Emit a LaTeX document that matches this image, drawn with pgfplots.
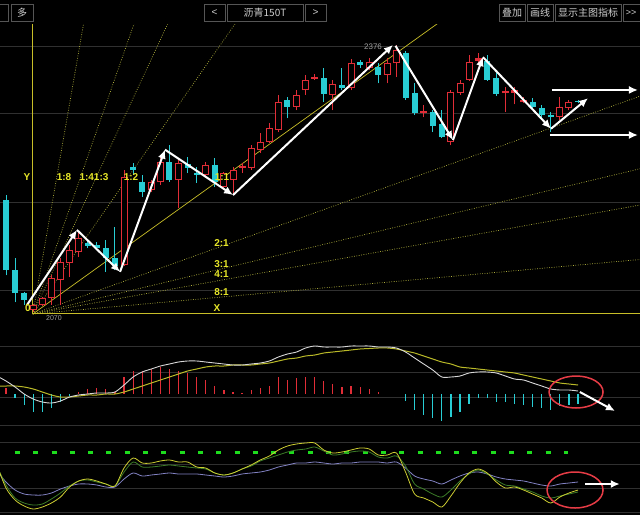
\documentclass[border=0pt]{standalone}
\usepackage{fontspec}
\setmainfont{Liberation Sans}
\newfontfamily\cjk{Noto Sans CJK SC}
\usepackage{pgfplots}
\pgfplotsset{compat=1.18}
\usepackage{pgfplotstable}
\usetikzlibrary{arrows.meta}

\definecolor{cy}{RGB}{40,205,212}
\definecolor{rd}{RGB}{225,45,55}
\definecolor{fany}{RGB}{175,175,60}
\definecolor{lbly}{RGB}{230,230,40}
\definecolor{axy}{RGB}{200,190,40}
\definecolor{gridg}{RGB}{48,48,48}
\definecolor{btng}{RGB}{85,85,85}
\definecolor{txtg}{RGB}{205,205,205}
\definecolor{labg}{RGB}{160,160,160}
\definecolor{difw}{RGB}{215,215,215}
\definecolor{deay}{RGB}{185,185,40}
\definecolor{kj}{RGB}{205,205,50}
\definecolor{kk}{RGB}{60,125,40}
\definecolor{kd}{RGB}{130,130,195}
\definecolor{gdash}{RGB}{30,220,30}
\definecolor{ell}{RGB}{230,60,70}

% candles: index, open, high, low, close
\pgfplotstableread{
i o h l c
0 2198 2204 2112 2118
1 2118 2132 2081 2092
2 2092 2093 2078 2084
9 2149 2153 2143 2146
10 2147 2150 2141 2143
11 2143 2153 2116 2132
12 2132 2167 2118 2123
14 2236 2241 2227 2233
15 2219 2227 2202 2208
18 2242 2261 2219 2221
20 2240 2248 2229 2235
21 2229 2236 2218 2227
23 2238 2246 2213 2219
31 2313 2316 2292 2305
35 2338 2350 2311 2320
37 2330 2350 2324 2327
39 2357 2359 2350 2353
41 2351 2355 2332 2342
44 2367 2369 2313 2315
45 2321 2332 2296 2298
47 2299 2301 2276 2283
48 2285 2301 2269 2270
53 2358 2365 2335 2336
54 2338 2344 2318 2320
58 2311 2315 2301 2305
59 2304 2307 2292 2296
60 2296 2299 2276 2293
63 2312 2313 2310 2311
}\candown

\pgfplotstableread{
i o h l c
3 2072 2079 2070 2078
4 2078 2087 2077 2086
5 2086 2112 2078 2109
6 2107 2132 2078 2127
7 2126 2147 2110 2141
8 2139 2162 2133 2155
13 2124 2233 2123 2225
16 2210 2221 2208 2219
17 2219 2250 2216 2242
19 2221 2246 2189 2241
22 2227 2242 2224 2238
24 2213 2230 2210 2229
25 2221 2236 2204 2233
27 2235 2261 2233 2258
28 2256 2275 2252 2265
29 2265 2287 2264 2281
30 2279 2319 2276 2311
32 2305 2324 2301 2319
33 2324 2342 2319 2336
36 2319 2336 2301 2331
38 2327 2360 2324 2355
40 2350 2361 2347 2357
42 2342 2361 2332 2355
43 2355 2376 2339 2370
49 2265 2324 2261 2322
50 2321 2336 2319 2332
51 2336 2365 2335 2357
61 2293 2316 2290 2305
62 2304 2313 2301 2311
}\canup

\pgfplotstableread{
i o h l c
26 2235 2241 2229 2237
34 2337 2343 2336 2339
46 2298.5 2307 2293 2300
52 2358 2367 2355 2361
55 2321.5 2328 2299 2323
56 2321 2328 2308 2324
57 2311 2316 2310 2313
}\candoji

\pgfplotstableread{
i v
0 6
8 2
9 5
10 6
11 5
12 2
13 17
14 23
15 23
16 25
17 27
18 25
19 23
20 21
21 17
22 14
23 8
24 4
25 2
26 1
27 4
28 6
29 8
30 17
31 14
32 16
33 17
34 17
35 13
36 10
37 7
38 8
39 7
40 5
41 2
}\macdpos

\pgfplotstableread{
i v
1 -4
2 -11
3 -18
4 -18
5 -14
6 -8
7 -2
44 -7
45 -16
46 -21
47 -24
48 -27
49 -23
50 -18
51 -10
52 -4
53 -4
54 -8
55 -8
56 -10
57 -11
58 -13
59 -14
60 -16
61 -12
62 -11
63 -10
}\macdneg

\pgfplotstableread{
i dif dea
-1 18 8
0 13 8
1 7 8
2 0 7
3 -5 5
4 -8 2
5 -9 -1
6 -7 -3
7 -3 -3
8 -1 -2
9 0 -1
10 1 -1
11 1 0
12 2 0
13 9 2
14 17 5
15 22 8
16 25 11
17 28 14
18 30 17
19 32 20
20 33 23
21 33 25
22 32 27
23 31 28
24 30 28
25 29 29
26 29 29
27 30 29
28 31 30
29 33 31
30 37 33
31 40 35
32 42 36
33 46 38
34 48 39
35 47 41
36 47 42
37 47 43
38 48 44
39 48 45
40 48 45.5
41 47 46
42 47 46
43 46 45
44 42 43
45 36 41
46 30 38
47 24 35
48 17 32
49 17 30
50 18 27
51 21 26
52 22 25
53 22 24
54 21 23
55 18 22
56 15 21
57 14 19
58 11 17
59 8 15
60 5 13
61 4 11
62 4 10
63 3 9
}\macdln

\pgfplotstableread{
i j k d
-1 47 46 41
0 24 27 30
1 12 14 22
2 6 9 18
3 3 7 17
4 5 8 17
5 9 13 19
6 15 19 23
7 25 26 26
8 31 31 28
9 33 32 28
10 31 30 27
11 28 28 25
12 26 26 25
13 44 40 33
14 54 50 39
15 49 45 36
16 49 45 37
17 51 46 38
18 52 47 39
19 50 46 38
20 50 45 38
21 45 44 38
22 44 43 37
23 39 39 36
24 37 37 35
25 39 39 36
26 43 43 38
27 47 46 39
28 52 51 40
29 56 54 42
30 62 57 45
31 66 60 47
32 68 62 49
33 69 63 49
34 69 65 50
35 62 61 49
36 59 57 48
37 60 58 49
38 62 60 49
39 64 61 50
40 63 60 50
41 57 55 50
42 57 54 49
43 59 56 50
44 40 46 44
45 18 28 36
46 14 23 33
47 10 18 31
48 5 15 28
49 16 22 32
50 29 31 36
51 39 38 39
52 43 42 40
53 39 38 38
54 30 32 35
55 24 27 33
56 25 26 32
57 22 23 31
58 18 20 29
59 14 16 27
60 9 14 26
61 15 16 28
62 19 18 29
63 22 20 30
}\kdjtab

\pgfplotsset{
  panel/.style={scale only axis, width=640pt, xmin=-0.661, xmax=69.824,
    axis line style={draw=none}, tick style={draw=none}, xtick=\empty,
    yticklabels={}, ymajorgrids, major grid style={gridg, line width=0.8pt}},
  fandot/.style={fany, line width=0.7pt, dash pattern=on 0.8pt off 1.6pt},
  warrow/.style={white, line width=2pt, -{Latex[length=9pt,width=8pt]}},
}
\tikzset{btn/.style={draw=btng, fill=black, line width=0.8pt},
  bt/.style={text=txtg, font=\fontsize{10}{12}\selectfont, inner sep=0pt},
  gl/.style={text=lbly, font=\fontsize{10}{11}\selectfont\bfseries, inner sep=0pt}}

\begin{document}
\begin{tikzpicture}
\fill[black] (0pt,0pt) rectangle (640pt,-515pt);
\useasboundingbox (0pt,0pt) rectangle (640pt,-515pt);

% toolbar
\begin{scope}
\clip (0pt,0pt) rectangle (640pt,-24pt);
\draw[btn] (-10pt,-4pt) rectangle (8pt,-21pt);
\draw[btn] (11pt,-4pt) rectangle (33pt,-21pt);
\node[bt] at (22pt,-12.5pt) {\cjk 多};
\draw[btn] (204pt,-4pt) rectangle (225pt,-21pt);
\node[bt] at (214.5pt,-12.5pt) {<};
\draw[btn] (227pt,-4pt) rectangle (303pt,-21pt);
\node[bt] at (265pt,-12.5pt) {\cjk 沥青150T};
\draw[btn] (305pt,-4pt) rectangle (326pt,-21pt);
\node[bt] at (315.5pt,-12.5pt) {>};
\draw[btn] (499pt,-4pt) rectangle (525pt,-21pt);
\node[bt] at (512pt,-12.5pt) {\cjk 叠加};
\draw[btn] (527pt,-4pt) rectangle (553pt,-21pt);
\node[bt] at (540pt,-12.5pt) {\cjk 画线};
\draw[btn] (555pt,-4pt) rectangle (621pt,-21pt);
\node[bt] at (588pt,-12.5pt) {\cjk 显示主图指标};
\draw[btn] (623pt,-4pt) rectangle (645pt,-21pt);
\node[bt, font=\fontsize{9}{10}\selectfont] at (631pt,-12.5pt) {>{}>};
\end{scope}

% main price panel
\begin{axis}[panel, at={(0pt,-318pt)}, anchor=south west, height=294pt,
  ymin=2063.1, ymax=2400, ytick={2095.2,2196.1,2298.1,2374.8}]
\addplot[fandot] coordinates {(2.95,2067.7) (103,2161.1)};
\addplot[fandot] coordinates {(2.95,2067.7) (103,2254.5)};
\addplot[fandot] coordinates {(2.95,2067.7) (103,2316.7)};
\addplot[fandot] coordinates {(2.95,2067.7) (103,2441.2)};
\addplot[fandot] coordinates {(2.95,2067.7) (53,2814.7)};
\addplot[fandot] coordinates {(2.95,2067.7) (43,2964.1)};
\addplot[fandot] coordinates {(2.95,2067.7) (33,2964.1)};
\addplot[fandot] coordinates {(2.95,2067.7) (13,2665.3)};
\addplot[axy, line width=0.7pt] coordinates {(2.95,2067.7) (103,2814.7)};
\addplot[axy, line width=1pt] coordinates {(2.95,2067.7) (70,2067.7)};
\addplot[axy, line width=1pt] coordinates {(2.92,2067.7) (2.92,2400)};
% down candles
\addplot[cy, line width=1pt, quiver={u=0, v=\thisrow{h}-\thisrow{l}}] table[x=i, y=l] {\candown};
\addplot[cy, line width=6pt, quiver={u=0, v=\thisrow{o}-\thisrow{c}}] table[x=i, y=c] {\candown};
% up candles (hollow)
\addplot[rd, line width=1pt, quiver={u=0, v=\thisrow{h}-\thisrow{l}}] table[x=i, y=l] {\canup};
\addplot[rd, line width=7pt, quiver={u=0, v=\thisrow{c}-\thisrow{o}}] table[x=i, y=o] {\canup};
\addplot[black, line width=5pt, quiver={u=0, v=\thisrow{c}-\thisrow{o},
  every arrow/.append style={shorten <=1pt, shorten >=1pt}}] table[x=i, y=o] {\canup};
% small-bodied up candles
\addplot[rd, line width=1pt, quiver={u=0, v=\thisrow{h}-\thisrow{l}}] table[x=i, y=l] {\candoji};
\addplot[rd, line width=7pt, quiver={u=0, v=\thisrow{c}-\thisrow{o}}] table[x=i, y=o] {\candoji};
% wave arrows
\addplot[warrow] coordinates {(2.31,2078) (7.82,2164)};
\addplot[warrow] coordinates {(7.82,2164) (12.56,2116)};
\addplot[warrow] coordinates {(12.56,2116) (17.51,2256)};
\addplot[warrow] coordinates {(17.51,2256) (25.0,2204)};
\addplot[warrow] coordinates {(25.0,2204) (42.62,2376)};
\addplot[warrow] coordinates {(42.9,2375) (49.23,2267)};
\addplot[warrow] coordinates {(49.23,2267) (52.53,2362)};
\addplot[warrow] coordinates {(52.53,2362) (60.02,2280)};
\addplot[warrow] coordinates {(60.02,2280) (64.1,2315)};
\addplot[warrow] coordinates {(60.13,2324.4) (69.6,2324.4)};
\addplot[warrow] coordinates {(59.9,2272.8) (69.6,2272.8)};
\end{axis}

% Gann labels
\node[gl] at (27pt,-177pt) {Y};
\node[gl] at (64pt,-177pt) {1:8};
\node[gl] at (94pt,-177pt) {1:41:3};
\node[gl] at (131pt,-177pt) {1:2};
\node[gl] at (222pt,-177pt) {1:1};
\node[gl] at (221.5pt,-243pt) {2:1};
\node[gl] at (221.5pt,-264pt) {3:1};
\node[gl] at (221.5pt,-274pt) {4:1};
\node[gl] at (221.5pt,-292pt) {8:1};
\node[gl] at (217pt,-308pt) {X};
\node[gl] at (28pt,-308pt) {0};
\node[text=labg, font=\fontsize{8}{9}\selectfont, inner sep=0pt] at (373pt,-47pt) {2376};
\node[text=labg, font=\fontsize{7}{8}\selectfont, inner sep=0pt] at (54pt,-318pt) {2070};

% MACD panel
\begin{axis}[panel, at={(0pt,-430pt)}, anchor=south west, height=108pt,
  ymin=-36, ymax=72, ytick={48,22,-3,-31}]
\addplot[ycomb, rd, line width=1.2pt] table[x=i, y=v] {\macdpos};
\addplot[ycomb, cy, line width=1.2pt] table[x=i, y=v] {\macdneg};
\addplot[smooth, deay, line width=1pt] table[x=i, y=dea] {\macdln};
\addplot[smooth, difw, line width=0.9pt] table[x=i, y=dif] {\macdln};
\draw[ell, line width=1.5pt] (axis cs:62.78,2) ellipse [x radius=27pt, y radius=16pt];
\addplot[warrow] coordinates {(63.2,2) (67.07,-17)};
\end{axis}

% KDJ panel
\begin{axis}[panel, at={(0pt,-515pt)}, anchor=south west, height=83pt,
  ymin=-3, ymax=80, ytick={70,48,24,0}]
\addplot[gdash, line width=3pt, dash pattern=on 5pt off 13.3pt] coordinates {(0.99,60) (61.9,60)};
\addplot[smooth, kd, line width=0.8pt] table[x=i, y=d] {\kdjtab};
\addplot[smooth, kk, line width=0.8pt] table[x=i, y=k] {\kdjtab};
\addplot[smooth, kj, line width=0.8pt] table[x=i, y=j] {\kdjtab};
\draw[ell, line width=1.5pt] (axis cs:62.67,22) ellipse [x radius=28pt, y radius=18pt];
\addplot[warrow] coordinates {(63.77,28) (67.6,28)};
\end{axis}
\end{tikzpicture}
\end{document}
